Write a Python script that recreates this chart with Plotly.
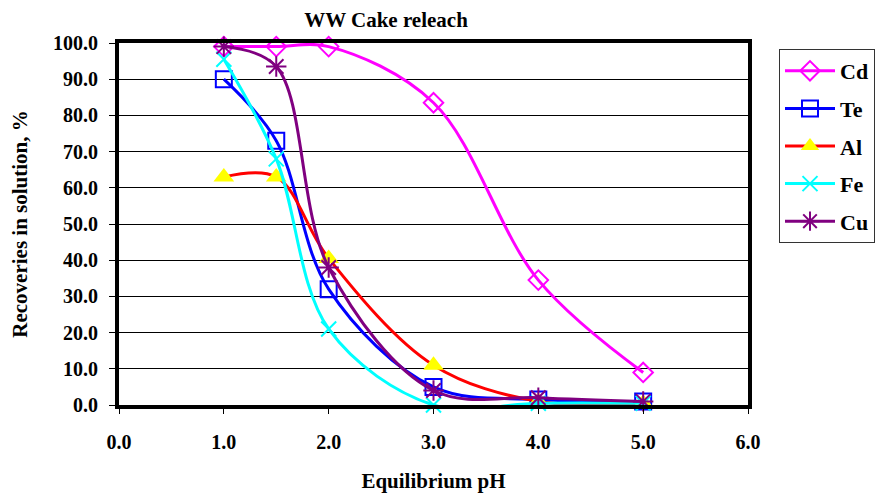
import plotly.graph_objects as go

ph = [1.0, 1.5, 2.0, 3.0, 4.0, 5.0]
cd = [99.0, 99.0, 99.0, 83.5, 34.5, 9.0]
te = [90.0, 73.0, 32.0, 5.0, 1.5, 1.0]
al = [63.0, 63.0, 40.5, 11.0, 1.0, 0.5]
fe = [95.5, 68.0, 21.0, 0.0, 0.5, 0.5]
cu = [99.0, 93.5, 38.0, 4.0, 2.0, 1.0]

series = [
    ("Cd", cd, "#FF00FF", dict(symbol="diamond-open", size=15, line=dict(width=2, color="#FF00FF"), color="#FF00FF")),
    ("Te", te, "#0000FF", dict(symbol="square-open", size=16, line=dict(width=2, color="#0000FF"), color="#0000FF")),
    ("Al", al, "#FF0000", dict(symbol="triangle-up", size=18, line=dict(width=0), color="#FFFF00")),
    ("Fe", fe, "#00FFFF", dict(symbol="x-thin-open", size=15, line=dict(width=2, color="#00FFFF"), color="#00FFFF")),
    ("Cu", cu, "#800080", dict(symbol="asterisk-open", size=17, line=dict(width=2, color="#800080"), color="#800080")),
]

# Page has an 8px body margin; work in figure coordinates = window - 8
W, H = 877, 485
L, T, R, B = 111, 35, W - 740, H - 397

FONT = "Liberation Serif"
fig = go.Figure()
for name, ys, col, mk in series:
    fig.add_trace(go.Scatter(
        x=ph, y=ys, name=name, mode="lines+markers",
        line=dict(color=col, width=3, shape="spline", smoothing=1.0),
        marker=mk, legendgroup=name, cliponaxis=False,
    ))

pw, ph_ = W - L - R, H - T - B
fig.update_layout(
    width=W, height=H,
    margin=dict(l=L, r=R, t=T, b=B, autoexpand=False),
    paper_bgcolor="white", plot_bgcolor="white",
    font=dict(family=FONT, color="black", size=20, weight="bold"),
    title=dict(text="WW Cake releach", x=(386 - 8) / W, xanchor="center", y=1 - 4 / H, yanchor="top",
               xref="container", yref="container",
               font=dict(family=FONT, size=21, weight="bold", color="black")),
    xaxis=dict(range=[0, 6], tickvals=[0, 1, 2, 3, 4, 5, 6], tickformat=".1f", automargin=False,
               showgrid=False, zeroline=False, showline=True, linecolor="black", linewidth=4, mirror=True,
               ticks="outside", ticklen=5, tickwidth=1, tickcolor="black", ticklabelstandoff=11,
               tickfont=dict(family=FONT, size=20, weight="bold"),
               title=dict(text="Equilibrium pH", standoff=29, font=dict(family=FONT, size=21, weight="bold"))),
    yaxis=dict(range=[0, 100], tickvals=[0, 10, 20, 30, 40, 50, 60, 70, 80, 90, 100], tickformat=".1f", automargin=False,
               showgrid=True, gridcolor="black", gridwidth=1, zeroline=False,
               showline=True, linecolor="black", linewidth=4, mirror=True,
               ticks="outside", ticklen=6, tickwidth=1, tickcolor="black", ticklabelstandoff=7,
               tickfont=dict(family=FONT, size=20, weight="bold"),
               title=dict(text="Recoveries in solution, %", standoff=22, font=dict(family=FONT, size=21, weight="bold"))),
    legend=dict(x=(779 - 8 - L) / pw, y=(397 - (49 - 8)) / ph_, xanchor="left", yanchor="top",
                bordercolor="#333", borderwidth=1, bgcolor="white",
                font=dict(family=FONT, size=22, weight="bold"), tracegroupgap=6, itemwidth=50),
    showlegend=True,
)

fig.write_html("out.html")
